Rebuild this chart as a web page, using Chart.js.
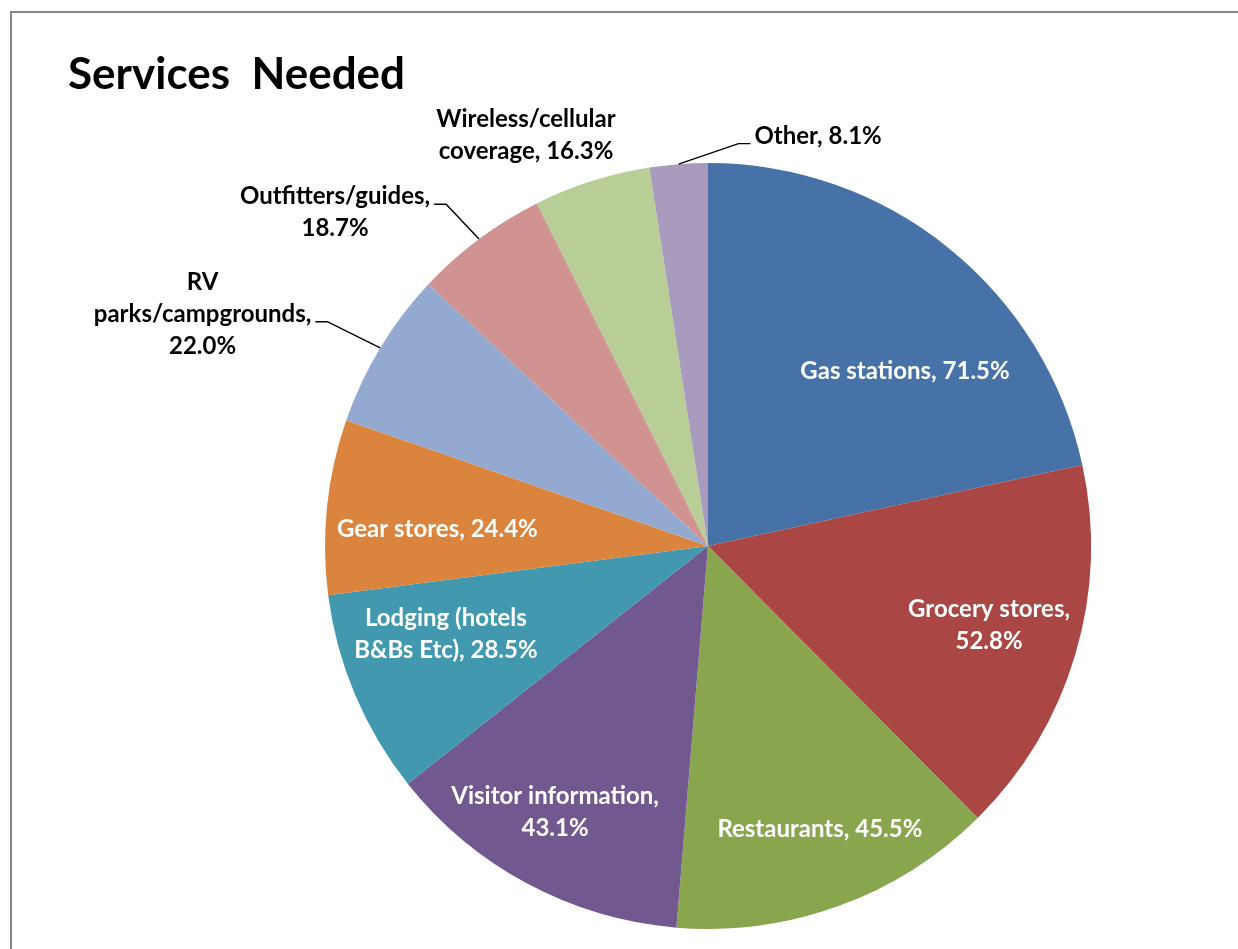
<!DOCTYPE html>
<html>
<head>
<meta charset="utf-8">
<script src="https://cdn.jsdelivr.net/npm/chart.js@4.4.0/dist/chart.umd.min.js"></script>
<style>
  html, body { margin: 0; padding: 0; background: #ffffff; overflow: hidden; }
  #wrap { position: relative; width: 1238px; height: 949px; }
  #frame { position: absolute; left: 10px; top: 11px; width: 1300px; height: 1000px;
           border: 2px solid #878787; box-sizing: border-box; }
  #c { position: absolute; left: 0; top: 0; }
</style>
</head>
<body>
<div id="wrap">
  <div id="frame"></div>
  <canvas id="c" width="1238" height="949"></canvas>
</div>
<script>
// ---- data ----
const chartTitle = 'Services  Needed';
const categories = [
  'Gas stations', 'Grocery stores', 'Restaurants', 'Visitor information',
  'Lodging (hotels B&Bs Etc)', 'Gear stores', 'RV parks/campgrounds',
  'Outfitters/guides', 'Wireless/cellular coverage', 'Other'
];
const values = [71.5, 52.8, 45.5, 43.1, 28.5, 24.4, 22.0, 18.7, 16.3, 8.1];
const colors = [
  '#4672A7', '#AA4643', '#89A54E', '#71588F', '#4198AF',
  '#DB843D', '#93A9CF', '#D19392', '#B9CD96', '#A99BBD'
];
// words per label line
const labelWrap = [[3], [2, 1], [2], [2, 1], [2, 3], [3], [1, 1, 1], [1, 1], [1, 2], [2]];

// ---- label placement (polar, relative to slice mid-angle) ----
const labelPlace = [
  { rf: 0.689, da: 9.4,   inside: true },
  { rf: 0.762, da: -0.9,  inside: true },
  { rf: 0.793, da: -1.6,  inside: true },
  { rf: 0.799, da: 1.8,   inside: true },
  { rf: 0.721, da: 4.5,   inside: true },
  { rf: 0.708, da: -2.2,  inside: true },
  { rf: 1.453, da: -6.4,  inside: false, leader: { line: 1, side: 'right' } },
  { rf: 1.308, da: -11.4, inside: false, leader: { line: 0, side: 'right' } },
  { rf: 1.174, da: -6.2,  inside: false },
  { rf: 1.111, da: 19.4,  inside: false, leader: { line: 0, side: 'left' } }
];

const FONT_FAMILY = 'Lato, "Open Sans", sans-serif';
const LABEL_SIZE = 24;
const LINE_H = 32;

function labelLines(i) {
  const words = (categories[i] + ', ' + values[i].toFixed(1) + '%').split(' ');
  const lines = [];
  let k = 0;
  for (const n of labelWrap[i]) {
    lines.push(words.slice(k, k + n).join(' '));
    k += n;
  }
  if (k < words.length) lines[lines.length - 1] += ' ' + words.slice(k).join(' ');
  return lines;
}

const labelPlugin = {
  id: 'sliceLabels',
  afterDatasetsDraw(chart) {
    const ctx = chart.ctx;
    const meta = chart.getDatasetMeta(0);
    ctx.save();
    ctx.font = 'bold ' + LABEL_SIZE + 'px ' + FONT_FAMILY;
    ctx.textAlign = 'center';
    ctx.textBaseline = 'alphabetic';
    const capHalf = LABEL_SIZE * 0.36;
    meta.data.forEach((arc, i) => {
      const p = arc.getProps(['x', 'y', 'startAngle', 'endAngle', 'outerRadius'], true);
      const mid = (p.startAngle + p.endAngle) / 2;
      const spec = labelPlace[i];
      const a = mid + spec.da * Math.PI / 180;
      const cx = p.x + Math.cos(a) * p.outerRadius * spec.rf;
      const cy = p.y + Math.sin(a) * p.outerRadius * spec.rf;
      const lines = labelLines(i);
      ctx.fillStyle = spec.inside ? '#ffffff' : '#000000';
      lines.forEach((t, j) => {
        const ly = cy + (j - (lines.length - 1) / 2) * LINE_H;
        ctx.fillText(t, cx, ly + capHalf);
      });
      if (spec.leader) {
        const j = spec.leader.line;
        const t = lines[j];
        const w = ctx.measureText(t).width;
        const ly = cy + (j - (lines.length - 1) / 2) * LINE_H + capHalf;
        const ex = p.x + Math.cos(mid) * p.outerRadius;
        const ey = p.y + Math.sin(mid) * p.outerRadius;
        let sx, hx;
        if (spec.leader.side === 'right') { sx = cx + w / 2 + 4; hx = sx + 12; }
        else { sx = cx - w / 2 - 4; hx = sx - 12; }
        ctx.beginPath();
        ctx.strokeStyle = '#000000';
        ctx.lineWidth = 1.4;
        ctx.moveTo(sx, ly);
        ctx.lineTo(hx, ly);
        ctx.lineTo(ex, ey);
        ctx.stroke();
      }
    });
    // title
    ctx.font = 'bold 44px ' + FONT_FAMILY;
    ctx.textAlign = 'left';
    ctx.fillStyle = '#000000';
    ctx.fillText(chartTitle, 68, 89);
    ctx.restore();
  }
};

new Chart(document.getElementById('c'), {
  type: 'pie',
  data: {
    labels: categories,
    datasets: [{
      data: values,
      backgroundColor: colors,
      borderWidth: 0,
      hoverOffset: 0
    }]
  },
  options: {
    responsive: false,
    animation: false,
    layout: { padding: { left: 178, right: 0, top: 163, bottom: 20 } },
    plugins: {
      legend: { display: false },
      tooltip: { enabled: false },
      title: { display: false }
    },
    events: []
  },
  plugins: [labelPlugin]
});
</script>
</body>
</html>
